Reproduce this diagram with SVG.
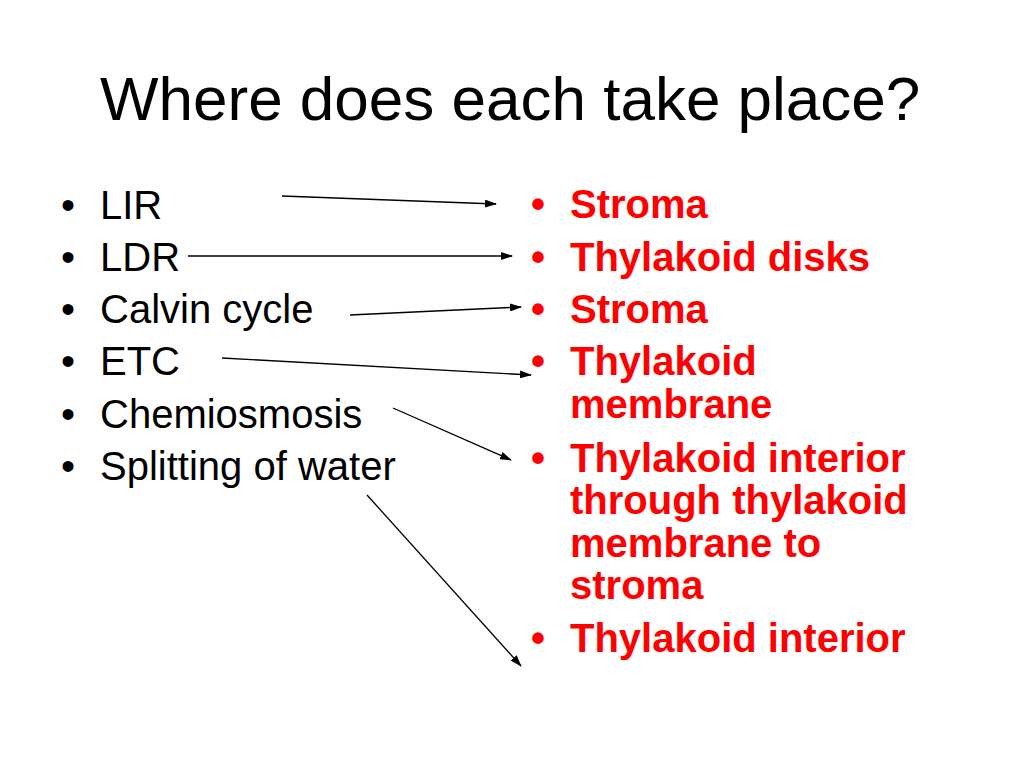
<svg xmlns="http://www.w3.org/2000/svg" width="1024" height="768" viewBox="0 0 1024 768">
<defs>
<style>
.t{font-family:"Liberation Sans",Arial,sans-serif;}
.title{font-size:62px;fill:#000;}
.l{font-size:40px;fill:#000;}
.r{font-size:40px;fill:#ff0000;font-weight:bold;}
.c{stroke:#000;stroke-width:1.3;fill:none;marker-end:url(#ah);}
</style>
<marker id="ah" markerUnits="userSpaceOnUse" markerWidth="12" markerHeight="8" refX="11" refY="4" orient="auto">
<path d="M0,0 L12,4 L0,8 Z" fill="#000"/>
</marker>
</defs>
<rect width="1024" height="768" fill="#fff"/>
<g id="title"><text class="t title" x="100" y="120">Where does each take place?</text></g>
<g id="left">
<g id="n-lir"><text class="t l" x="61" y="219">•</text><text class="t l" x="100" y="219">LIR</text></g>
<g id="n-ldr"><text class="t l" x="61" y="271">•</text><text class="t l" x="100" y="271">LDR</text></g>
<g id="n-calvin"><text class="t l" x="61" y="323">•</text><text class="t l" x="100" y="323">Calvin cycle</text></g>
<g id="n-etc"><text class="t l" x="61" y="375">•</text><text class="t l" x="100" y="375">ETC</text></g>
<g id="n-chemi"><text class="t l" x="61" y="428">•</text><text class="t l" x="100" y="428">Chemiosmosis</text></g>
<g id="n-split"><text class="t l" x="61" y="480">•</text><text class="t l" x="100" y="480">Splitting of water</text></g>
</g>
<g id="right">
<g id="r-stroma1"><text class="t r" x="531" y="218">•</text><text class="t r" x="570" y="218">Stroma</text></g>
<g id="r-disks"><text class="t r" x="531" y="271">•</text><text class="t r" x="570" y="271">Thylakoid disks</text></g>
<g id="r-stroma2"><text class="t r" x="531" y="323">•</text><text class="t r" x="570" y="323">Stroma</text></g>
<g id="r-membrane"><text class="t r" x="531" y="375">•</text><text class="t r" x="570" y="375">Thylakoid</text><text class="t r" x="570" y="418">membrane</text></g>
<g id="r-interior1"><text class="t r" x="531" y="472">•</text><text class="t r" x="570" y="472">Thylakoid interior</text><text class="t r" x="570" y="514">through thylakoid</text><text class="t r" x="570" y="557">membrane to</text><text class="t r" x="570" y="599">stroma</text></g>
<g id="r-interior2"><text class="t r" x="531" y="652">•</text><text class="t r" x="570" y="652">Thylakoid interior</text></g>
</g>
<g id="connectors">
<line class="c" x1="282" y1="196" x2="496" y2="204"/>
<line class="c" x1="188" y1="256" x2="512" y2="256"/>
<line class="c" x1="350" y1="315" x2="521" y2="307"/>
<line class="c" x1="222" y1="358" x2="531" y2="375"/>
<line class="c" x1="393" y1="408" x2="511" y2="460"/>
<line class="c" x1="367" y1="495" x2="521" y2="666"/>
</g>
</svg>
